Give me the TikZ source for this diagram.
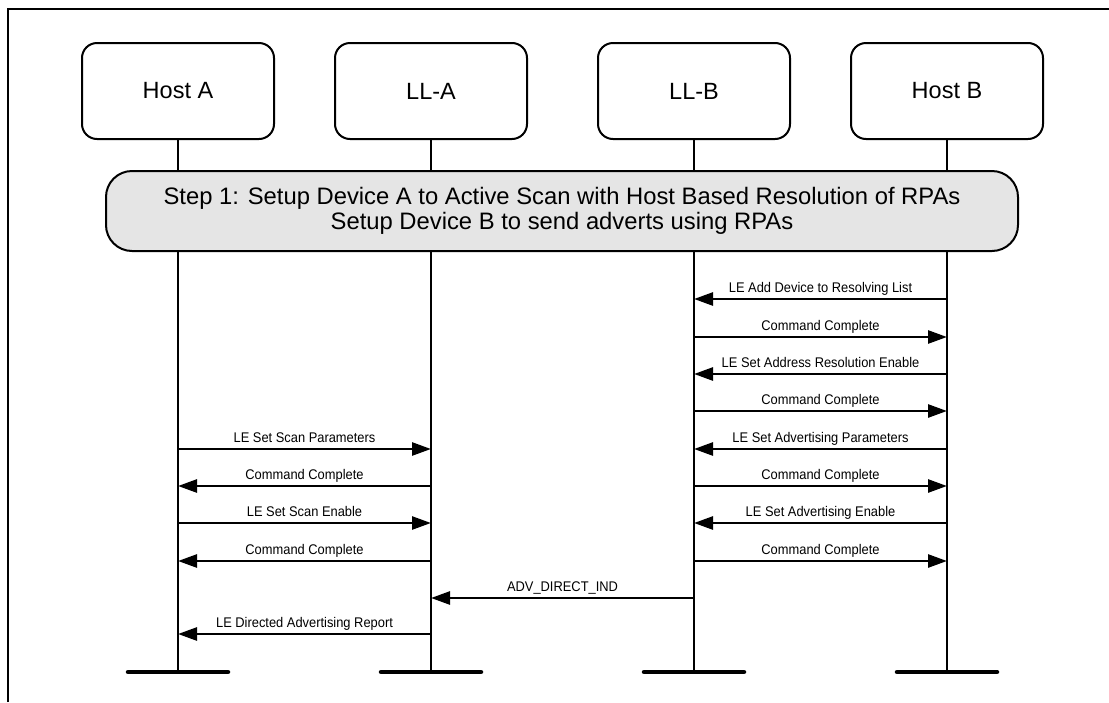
\documentclass[tikz,border=0pt]{standalone}
\usepackage{fontspec}
\setmainfont{Liberation Sans}
\newfontfamily\nfont[FakeStretch=0.92]{Liberation Sans}
\usetikzlibrary{arrows.meta}
\tikzset{
  hostbox/.style={draw, line width=2pt, rounded corners=15pt, minimum width=192pt, minimum height=96pt, inner sep=0pt, font=\fontsize{23.5}{26}\selectfont},
  stepbox/.style={draw, line width=2pt, rounded corners=26pt, fill=black!10, minimum width=912pt, minimum height=80pt, inner sep=0pt, align=center, font=\fontsize{23.8}{25.5}\selectfont},
  lifeline/.style={line width=2pt},
  bar/.style={line width=4.5pt, line cap=round},
  msgarrow/.style={line width=2.6pt, -{Triangle[length=19pt,width=13pt]}},
  msglabel/.style={midway, anchor=base, yshift=7pt, inner sep=0pt, font=\nfont\fontsize{14}{16}\selectfont},
}
\newcommand\msgline[4]{\draw[msgarrow] (#1 |- 0,#3) -- node[msglabel]{#4} (#2 |- 0,#3);}
\begin{document}
\begin{tikzpicture}[x=1pt,y=-1pt]
\useasboundingbox (0,0) rectangle (1109,702);
\draw[line width=2pt] (8,702) -- (8,9) -- (1109,9);
% boxes
\node[hostbox] (hA) at (178,91) {Host A};
\node[hostbox] (lA) at (431,91) {LL-A};
\node[hostbox] (lB) at (694,91) {LL-B};
\node[hostbox] (hB) at (947,91) {Host B};
% bars
\foreach \n in {hA,lA,lB,hB}{
  \coordinate (\n end) at (\n |- 0,672);
  \draw[lifeline] (\n.south) -- (\n end);
  \draw[bar] ([xshift=-50pt]\n end) -- ([xshift=50pt]\n end);
}
\node[stepbox] (step) at (562,211) {Step 1: Setup Device A to Active Scan with Host Based Resolution of RPAs\\Setup Device B to send adverts using RPAs};
% messages
\msgline{hB}{lB}{299}{LE Add Device to Resolving List}
\msgline{lB}{hB}{337}{Command Complete}
\msgline{hB}{lB}{374}{LE Set Address Resolution Enable}
\msgline{lB}{hB}{411}{Command Complete}
\msgline{hB}{lB}{449}{LE Set Advertising Parameters}
\msgline{lB}{hB}{486}{Command Complete}
\msgline{hB}{lB}{523}{LE Set Advertising Enable}
\msgline{lB}{hB}{561}{Command Complete}
\msgline{hA}{lA}{449}{LE Set Scan Parameters}
\msgline{lA}{hA}{486}{Command Complete}
\msgline{hA}{lA}{523}{LE Set Scan Enable}
\msgline{lA}{hA}{561}{Command Complete}
\msgline{lB}{lA}{598}{ADV\_DIRECT\_IND}
\msgline{lA}{hA}{634}{LE Directed Advertising Report}
\end{tikzpicture}
\end{document}
